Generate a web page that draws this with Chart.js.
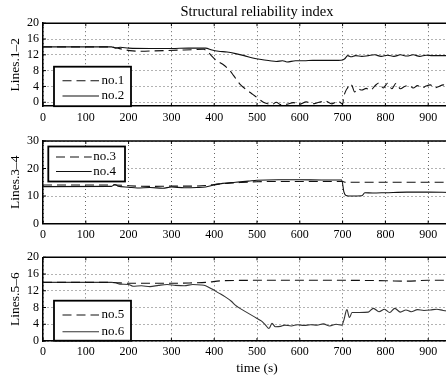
<!DOCTYPE html>
<html><head><meta charset="utf-8">
<script src="https://cdn.jsdelivr.net/npm/chart.js@4.4.0/dist/chart.umd.min.js"></script>
<style>
html,body{margin:0;padding:0;background:#fff;}
#wrap{position:relative;width:446px;height:381px;overflow:hidden;background:#fff;}
canvas{position:absolute;left:0;}
</style></head><body>
<div id="wrap">
<canvas id="c1" width="471" height="124" style="top:0px;width:471px;height:124px"></canvas>
<canvas id="c2" width="471" height="118" style="top:128px;width:471px;height:118px"></canvas>
<canvas id="c3" width="471" height="137" style="top:244px;width:471px;height:137px"></canvas>
</div>
<script>
// ---- data ----
const titleText = "Structural reliability index";
const xTitle = "time (s)";
const xTicks = [0,100,200,300,400,500,600,700,800,900];
const yTicks12 = [0,4,8,12,16,20];
const yTicks34 = [0,10,20,30];
const yTicks56 = [0,4,8,12,16,20];
const yTitles = ["Lines.1\u20132","Lines.3\u20134","Lines.5\u20136"];
const labels = ["no.1","no.2","no.3","no.4","no.5","no.6"];

const t1  = [0,160,170,190,210,230,260,290,320,350,375,385,395,405,420,435,445,460,475,490,505,515,525,535,545,555,570,585,600,615,630,645,660,675,690,700,703,708,712,716,722,728,735,745,755,765,775,785,795,805,815,825,835,845,855,865,875,885,895,905,915,925,935,950];
const no1 = [14.0,14.0,13.8,13.3,13.0,12.9,13.0,13.1,13.2,13.3,13.4,12.8,11.6,10.6,9.6,8.2,6.8,4.6,3.2,2.0,0.8,0.0,-0.4,-0.6,0.0,-0.6,-0.5,-0.1,-0.5,0.1,-0.4,0.0,0.3,-0.4,0.3,-0.5,1.5,3.0,3.7,4.6,4.2,2.6,3.4,3.1,3.5,3.0,4.1,4.9,3.6,4.8,3.4,4.8,3.4,4.0,4.3,3.6,4.2,3.6,4.1,4.4,3.6,4.0,4.4,3.8];

const t2  = [0,160,170,180,200,250,300,340,380,395,410,430,450,470,490,510,530,545,560,570,590,610,630,660,690,700,705,712,720,730,745,760,775,790,805,820,835,850,865,880,895,910,925,950];
const no2 = [14.0,14.0,13.7,13.9,13.7,13.6,13.6,13.7,13.7,13.2,12.9,12.7,12.3,11.8,11.2,10.8,10.5,10.3,10.5,10.2,10.5,10.5,10.6,10.6,10.6,10.7,11.0,11.8,11.5,11.8,11.6,11.8,12.0,11.6,11.9,11.6,12.0,11.7,12.0,11.6,11.9,11.8,11.8,11.8];

const t3  = [0,160,170,200,250,300,350,380,400,430,460,500,550,600,650,700,705,800,900,950];
const no3 = [14.0,14.0,14.0,13.7,13.5,13.6,13.6,13.8,14.2,14.6,14.9,15.2,15.3,15.3,15.3,15.3,15.0,15.0,15.0,15.0];

const t4  = [0,160,168,175,200,220,250,280,300,330,360,380,400,420,450,480,500,550,600,650,698,703,708,720,745,752,770,800,850,900,950];
const no4 = [13.4,13.5,14.2,13.6,13.2,12.9,13.1,12.8,13.3,13.0,13.1,13.3,14.0,14.6,15.0,15.4,15.7,15.9,15.9,15.8,15.8,11.5,10.2,10.0,10.1,11.2,11.1,11.2,11.4,11.4,11.3];

const t5  = [0,160,200,250,300,350,380,420,500,600,700,800,850,900,950];
const no5 = [14.0,14.0,13.8,13.8,13.8,13.9,14.0,14.4,14.5,14.5,14.5,14.4,14.3,14.5,14.5];

const t6  = [0,160,170,180,200,210,230,250,270,290,310,330,350,370,380,395,410,425,440,450,460,475,490,500,510,520,528,535,543,555,565,580,595,610,625,640,655,670,685,698,703,710,716,722,740,760,772,785,798,810,822,835,848,860,875,890,905,920,935,950];
const no6 = [14.0,14.0,13.9,13.6,13.5,13.1,13.2,13.0,13.3,13.5,13.3,13.2,13.5,13.4,13.2,12.4,11.5,10.6,9.5,8.5,7.8,6.9,6.0,5.4,4.8,3.8,3.0,4.2,3.4,3.5,3.8,3.6,3.9,3.7,3.9,3.8,4.1,3.6,4.0,3.8,5.0,7.5,5.6,6.8,6.8,6.9,7.8,7.0,7.6,6.8,7.8,6.9,7.4,7.0,7.5,7.3,7.4,7.6,7.3,7.1];

// ---- helpers ----
const FONT = "'Liberation Serif','Times New Roman',serif";
const pts = (ts, vs) => ts.map((t, i) => ({x: t, y: vs[i]}));

const framePlugin = {
  id: 'frame',
  afterDatasetsDraw(chart) {
    const {ctx, chartArea: a, scales} = chart;
    ctx.save();
    ctx.strokeStyle = '#000';
    ctx.lineWidth = 1.5;
    ctx.beginPath();
    ctx.moveTo(a.left, a.top); ctx.lineTo(a.right, a.top);
    ctx.stroke();
    ctx.lineWidth = 1;
    ctx.beginPath();
    scales.x.ticks.forEach(t => {
      const px = scales.x.getPixelForValue(t.value);
      ctx.moveTo(px, a.bottom); ctx.lineTo(px, a.bottom - 3);
      ctx.moveTo(px, a.top); ctx.lineTo(px, a.top + 3);
    });
    scales.y.ticks.forEach(t => {
      const py = scales.y.getPixelForValue(t.value);
      ctx.moveTo(a.left, py); ctx.lineTo(a.left + 3, py);
    });
    ctx.stroke();
    ctx.restore();
  },
  afterDraw(chart, args, o) {
    const {ctx, chartArea: a} = chart;
    const x = a.left + o.dx, y = a.top + o.dy;
    ctx.save();
    ctx.fillStyle = '#fff';
    ctx.fillRect(x, y, o.w, o.h);
    ctx.strokeStyle = '#000';
    ctx.lineWidth = 1.8;
    ctx.strokeRect(x, y, o.w, o.h);
    chart.data.datasets.forEach((ds, i) => {
      const ry = y + o.rows[i];
      ctx.beginPath();
      ctx.strokeStyle = ds.borderColor;
      ctx.lineWidth = ds.borderWidth;
      ctx.setLineDash(ds.borderDash || []);
      ctx.moveTo(x + o.s0, ry); ctx.lineTo(x + o.s1, ry);
      ctx.stroke();
      ctx.setLineDash([]);
      ctx.fillStyle = '#000';
      ctx.font = "13px " + FONT;
      ctx.textBaseline = 'middle';
      ctx.textAlign = 'left';
      ctx.fillText(ds.label, x + o.tx, ry);
    });
    ctx.restore();
  }
};

function makePanel(id, cfg) {
  const dash = [9, 5];
  new Chart(document.getElementById(id), {
    type: 'line',
    data: {
      datasets: [
        {label: cfg.labels[0], data: pts(cfg.ta, cfg.va), borderColor: '#111', borderWidth: 1.1, borderDash: dash, pointRadius: 0, cubicInterpolationMode: 'monotone', fill: false},
        {label: cfg.labels[1], data: pts(cfg.tb, cfg.vb), borderColor: cfg.solidColor, borderWidth: 1.1, pointRadius: 0, cubicInterpolationMode: 'monotone', fill: false}
      ]
    },
    options: {
      responsive: false,
      animation: false,
      devicePixelRatio: 1,
      layout: {padding: {top: cfg.padTop, left: 0, right: 0, bottom: 0}},
      plugins: {
        legend: {display: false},
        tooltip: {enabled: false},
        title: cfg.title ? {display: true, text: cfg.title, fullSize: false, color: '#000', font: {family: FONT, size: 14.5, weight: 'normal'}, padding: {top: 3, bottom: 2.8}} : {display: false},
        frame: cfg.legend
      },
      scales: {
        x: {
          type: 'linear', min: 0, max: 1000,
          afterBuildTicks: s => { s.ticks = xTicks.map(v => ({value: v})); },
          afterFit: s => { s.height = cfg.xHeight; },
          ticks: {color: '#000', font: {family: FONT, size: 12}, padding: 4, maxRotation: 0, autoSkip: false},
          grid: {color: '#666', lineWidth: 1, drawTicks: false},
          border: {display: true, color: '#000', width: 1.5, dash: [1, 3]},
          title: cfg.xTitle ? {display: true, text: cfg.xTitle, color: '#000', font: {family: FONT, size: 13.5}, padding: {top: 0}} : {display: false}
        },
        y: {
          type: 'linear', min: cfg.ymin, max: cfg.ymax,
          afterBuildTicks: s => { s.ticks = cfg.yTicks.map(v => ({value: v})); },
          afterFit: s => { s.width = 43; },
          ticks: {color: '#000', font: {family: FONT, size: 12}, padding: 4, autoSkip: false},
          grid: {color: '#666', lineWidth: 1, drawTicks: false},
          border: {display: true, color: '#000', width: 1.5, dash: [1, 3]},
          title: {display: true, text: cfg.yTitle, color: '#000', font: {family: FONT, size: 13.5}, padding: {top: 7, bottom: 0}}
        }
      }
    },
    plugins: [framePlugin]
  });
}

makePanel('c1', {
  title: titleText, padTop: 0, xHeight: 17.8, ymin: -1, ymax: 20, yTicks: yTicks12, yTitle: yTitles[0],
  labels: [labels[0], labels[1]], ta: t1, va: no1, tb: t2, vb: no2, solidColor: '#111',
  legend: {dx: 11, dy: 43.5, w: 77, h: 39.5, rows: [14, 29.3], s0: 8.5, s1: 45, tx: 47.5}
});
makePanel('c2', {
  padTop: 13, xHeight: 22.5, ymin: 0, ymax: 30, yTicks: yTicks34, yTitle: yTitles[1],
  labels: [labels[2], labels[3]], ta: t3, va: no3, tb: t4, vb: no4, solidColor: '#111',
  legend: {dx: 5.3, dy: 5.5, w: 76.7, h: 35, rows: [10.5, 25], s0: 7.7, s1: 43.4, tx: 45}
});
makePanel('c3', {
  padTop: 13.3, xHeight: 40, ymin: 0, ymax: 20, yTicks: yTicks56, yTitle: yTitles[2], xTitle: xTitle,
  labels: [labels[4], labels[5]], ta: t5, va: no5, tb: t6, vb: no6, solidColor: '#333',
  legend: {dx: 11, dy: 43.4, w: 77, h: 40, rows: [14.3, 31], s0: 8.5, s1: 45, tx: 47.5}
});
</script>
</body></html>
